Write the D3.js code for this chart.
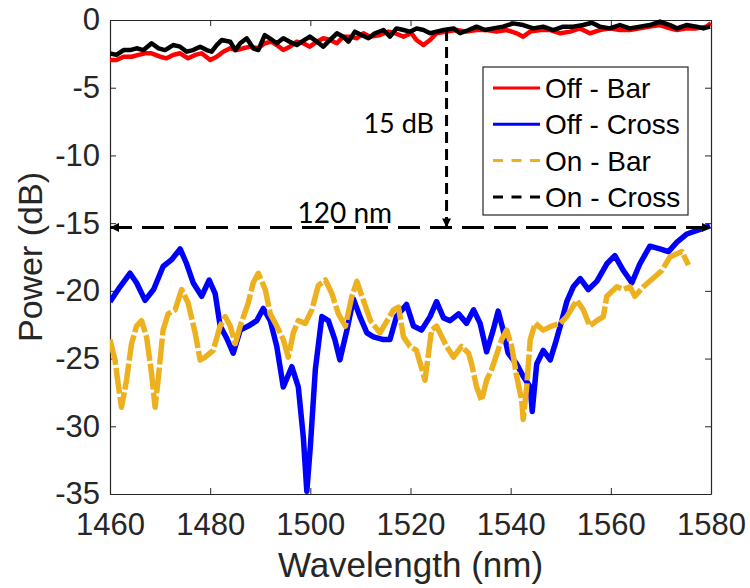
<!DOCTYPE html>
<html>
<head>
<meta charset="utf-8">
<script src="https://d3js.org/d3.v7.min.js"></script>
<style>
  body { margin: 0; background: #fff; }
  svg { display: block; }
</style>
</head>
<body>
<script>
// tick values
var xTicks = [1460, 1480, 1500, 1520, 1540, 1560, 1580],
    yTicks = [0, -5, -10, -15, -20, -25, -30, -35];

// measured spectra, [wavelength nm, power dB]
var offBar = [
  [1460.0,-2.95],[1461.3,-2.95],[1462.7,-2.71],[1464.3,-2.71],[1465.7,-2.58],[1467.0,-2.46],
  [1468.3,-2.46],[1470.0,-2.71],[1471.3,-2.83],[1472.6,-2.58],[1474.0,-2.46],[1475.6,-2.83],
  [1477.0,-2.58],[1478.3,-2.46],[1480.0,-2.95],[1481.3,-2.71],[1482.6,-2.34],[1484.0,-2.09],
  [1485.3,-2.22],[1486.6,-2.09],[1488.0,-1.97],[1489.6,-2.09],[1490.9,-1.72],[1492.3,-1.60],
  [1493.3,-1.85],[1494.6,-2.22],[1495.9,-1.97],[1497.3,-1.60],[1498.6,-1.72],[1499.9,-1.97],
  [1501.3,-1.60],[1502.6,-1.35],[1503.9,-1.48],[1505.3,-1.72],[1506.6,-1.23],[1507.9,-1.23],
  [1509.3,-1.35],[1510.6,-0.98],[1511.9,-1.23],[1513.9,-1.11],[1515.6,-0.86],[1516.9,-0.98],
  [1518.6,-1.23],[1520.2,-0.98],[1521.2,-1.48],[1522.6,-1.85],[1523.9,-1.48],[1525.2,-0.98],
  [1527.2,-0.86],[1529.2,-0.74],[1531.2,-0.86],[1533.2,-0.74],[1535.2,-0.74],[1537.2,-0.86],
  [1539.2,-0.74],[1541.2,-0.98],[1542.5,-1.23],[1543.9,-0.86],[1545.9,-0.74],[1547.9,-0.74],
  [1549.9,-0.98],[1551.9,-0.86],[1553.8,-0.62],[1555.8,-0.98],[1557.8,-0.74],[1559.8,-0.62],
  [1561.8,-0.74],[1563.8,-0.74],[1565.8,-0.62],[1567.8,-0.49],[1569.8,-0.37],[1571.8,-0.62],
  [1573.2,-0.74],[1575.1,-0.62],[1577.1,-0.62],[1579.1,-0.49],[1580.0,-0.25]
];

var offCross = [
  [1460.0,-20.8],[1462.0,-19.7],[1464.0,-18.7],[1465.3,-19.4],[1467.0,-20.7],[1468.7,-19.9],
  [1470.6,-18.2],[1472.3,-17.7],[1474.0,-16.9],[1475.3,-18.0],[1476.6,-19.4],[1478.3,-20.4],
  [1479.8,-19.2],[1481.0,-20.2],[1482.0,-22.6],[1483.3,-23.5],[1484.6,-24.6],[1486.0,-22.9],
  [1487.6,-22.6],[1489.3,-22.2],[1490.6,-21.3],[1492.0,-22.2],[1493.3,-24.1],[1494.6,-27.1],
  [1496.3,-25.6],[1497.6,-27.1],[1498.6,-30.8],[1499.3,-34.8],[1500.0,-31.5],[1501.0,-25.8],
  [1502.3,-21.9],[1503.6,-22.2],[1504.9,-23.6],[1505.9,-25.1],[1507.3,-22.9],[1508.6,-20.6],
  [1509.9,-21.9],[1511.3,-23.1],[1512.6,-23.4],[1514.6,-23.6],[1515.9,-23.6],[1517.2,-21.9],
  [1519.2,-21.0],[1520.6,-22.6],[1522.2,-22.9],[1523.9,-21.9],[1525.2,-20.8],[1526.6,-22.0],
  [1527.9,-22.2],[1529.6,-21.7],[1531.2,-22.4],[1532.6,-21.4],[1533.9,-22.4],[1535.2,-24.5],
  [1536.5,-22.9],[1537.5,-21.5],[1538.5,-22.9],[1539.5,-24.6],[1541.2,-25.4],[1542.5,-26.3],
  [1543.9,-27.1],[1544.3,-28.9],[1545.2,-25.4],[1546.5,-24.4],[1547.9,-25.1],[1548.9,-23.9],
  [1550.2,-22.2],[1551.2,-20.8],[1552.5,-19.7],[1553.9,-19.1],[1555.5,-19.9],[1557.2,-19.3],
  [1559.2,-18.0],[1560.8,-17.4],[1562.5,-18.5],[1564.2,-19.4],[1565.8,-18.0],[1567.8,-16.7],
  [1569.8,-16.9],[1571.5,-17.1],[1573.2,-16.4],[1575.2,-15.8],[1577.5,-15.5],[1579.8,-15.2]
];

var onBar = [
  [1460.0,-23.6],[1461.0,-25.1],[1461.6,-26.8],[1462.3,-28.6],[1463.3,-26.6],[1464.3,-23.9],
  [1465.3,-22.6],[1466.3,-22.2],[1467.3,-23.4],[1468.3,-26.1],[1469.0,-28.6],[1469.6,-26.6],
  [1470.6,-22.9],[1471.6,-21.7],[1473.0,-21.4],[1474.3,-19.9],[1475.6,-20.9],[1477.0,-23.1],
  [1478.0,-25.1],[1479.0,-24.9],[1480.6,-24.4],[1482.0,-22.6],[1483.0,-21.9],[1484.0,-22.6],
  [1485.0,-23.9],[1486.0,-22.6],[1487.6,-20.9],[1488.6,-19.4],[1489.6,-18.7],[1491.0,-19.9],
  [1492.0,-21.7],[1493.3,-22.6],[1494.6,-23.6],[1495.6,-24.9],[1496.6,-23.1],[1497.6,-22.2],
  [1499.0,-22.4],[1500.3,-21.4],[1501.6,-19.6],[1503.0,-19.2],[1504.3,-20.2],[1505.6,-21.7],
  [1507.0,-22.6],[1508.3,-20.4],[1509.3,-19.3],[1510.6,-20.7],[1512.0,-22.2],[1513.9,-23.1],
  [1516.6,-21.4],[1517.6,-21.2],[1518.6,-23.4],[1519.9,-24.1],[1521.2,-24.4],[1522.9,-26.6],
  [1524.2,-22.9],[1525.2,-22.6],[1527.2,-24.1],[1528.6,-24.9],[1530.2,-24.1],[1531.6,-24.6],
  [1532.2,-25.4],[1533.2,-27.1],[1534.2,-28.1],[1535.2,-26.6],[1536.2,-25.8],[1538.2,-23.6],
  [1539.2,-22.9],[1540.2,-24.1],[1541.2,-26.3],[1542.2,-28.1],[1542.5,-29.5],[1543.2,-27.1],
  [1543.9,-23.6],[1544.9,-22.4],[1546.5,-22.9],[1548.2,-22.6],[1549.9,-22.4],[1551.2,-21.9],
  [1553.2,-20.7],[1554.5,-21.4],[1555.8,-22.6],[1557.2,-22.2],[1558.5,-21.9],[1559.2,-20.4],
  [1561.2,-19.7],[1562.5,-19.9],[1563.8,-19.7],[1564.8,-20.4],[1566.5,-19.7],[1570.2,-18.5],
  [1571.8,-17.5],[1574.2,-17.1],[1575.5,-18.1]
];

var onCross = [
  [1460.0,-2.46],[1461.3,-2.58],[1462.7,-2.22],[1464.0,-2.22],[1465.3,-2.09],[1466.7,-2.22],
  [1468.3,-1.72],[1469.7,-2.09],[1471.0,-2.22],[1472.6,-1.85],[1474.0,-1.97],[1475.3,-2.34],
  [1476.6,-2.22],[1478.0,-1.97],[1479.3,-2.22],[1480.3,-2.34],[1481.3,-1.85],[1482.3,-1.48],
  [1484.0,-1.60],[1485.0,-2.22],[1486.0,-1.72],[1487.3,-1.35],[1488.6,-2.09],[1489.6,-2.22],
  [1490.9,-1.11],[1491.9,-1.35],[1493.3,-1.72],[1494.6,-1.35],[1495.9,-1.60],[1497.3,-1.85],
  [1498.3,-1.60],[1499.9,-1.23],[1501.3,-1.60],[1502.6,-1.97],[1503.9,-1.48],[1505.3,-0.98],
  [1506.6,-1.23],[1507.6,-1.60],[1508.9,-0.86],[1510.2,-1.11],[1511.6,-1.35],[1512.9,-0.98],
  [1514.6,-0.74],[1515.9,-1.23],[1517.2,-0.62],[1518.6,-0.74],[1519.9,-0.86],[1521.2,-0.62],
  [1522.6,-0.74],[1523.9,-0.98],[1525.2,-0.86],[1526.6,-0.74],[1528.6,-0.62],[1529.9,-0.98],
  [1531.6,-0.74],[1533.2,-0.49],[1534.9,-0.74],[1536.5,-0.62],[1538.5,-0.49],[1540.5,-0.25],
  [1542.5,-0.37],[1544.5,-0.62],[1546.5,-0.49],[1548.5,-0.74],[1550.5,-0.49],[1552.5,-0.49],
  [1554.5,-0.37],[1556.2,-0.20],[1557.8,-0.49],[1559.8,-0.62],[1561.8,-0.37],[1563.8,-0.62],
  [1565.8,-0.49],[1567.8,-0.37],[1569.8,-0.12],[1571.8,-0.37],[1573.2,-0.62],[1575.1,-0.37],
  [1577.1,-0.49],[1578.5,-0.62],[1579.8,-0.49]
];

var legendNames = ["Off - Bar", "Off - Cross", "On - Bar", "On - Cross"];

// annotation values
var spanNm = [1460, 1580],
    spanLevel = -15.32,
    extinctionAt = 1527.2,
    extinctionTop = -0.74;

var width = 750,
    height = 588,
    plotLeft = 110, plotRight = 711, plotTop = 20, plotBottom = 494,
    axisColor = "#262626";

var x = d3.scaleLinear().domain([1460, 1580]).range([plotLeft, plotRight]),
    y = d3.scaleLinear().domain([-35, 0]).range([plotBottom, plotTop]);

var figure = d3.select("body")
  .append("svg")
    .attr("width", width)
    .attr("height", height);

var defs = figure.append("defs");
defs.append("clipPath")
    .attr("id", "plot-clip")
  .append("rect")
    .attr("x", plotLeft)
    .attr("y", plotTop - 4)
    .attr("width", plotRight - plotLeft + 4)
    .attr("height", plotBottom - plotTop + 4);

defs.append("marker")
    .attr("id", "arrow")
    .attr("viewBox", "0 0 10 10")
    .attr("refX", 10)
    .attr("refY", 5)
    .attr("markerUnits", "userSpaceOnUse")
    .attr("markerWidth", 10)
    .attr("markerHeight", 9)
    .attr("orient", "auto-start-reverse")
  .append("path")
    .attr("d", "M0,0 L10,5 L0,10 Z")
    .attr("fill", "#000");

// axes, ticks pointing inward on all four sides
function styleAxis(g) {
  g.select(".domain").attr("stroke", axisColor).attr("stroke-width", 1.2);
  g.selectAll(".tick line").attr("stroke", axisColor).attr("stroke-width", 1);
  g.selectAll("text")
    .attr("fill", axisColor)
    .style("font-family", "'Liberation Sans', Arial, sans-serif")
    .style("font-size", "31px");
}

figure.append("g")
    .attr("transform", "translate(0," + plotBottom + ")")
    .call(d3.axisBottom(x).tickValues(xTicks).tickSizeInner(-6).tickSizeOuter(0)
      .tickPadding(19).tickFormat(d3.format("d")))
    .call(styleAxis);

figure.append("g")
    .attr("transform", "translate(" + plotLeft + ",0)")
    .call(d3.axisLeft(y).tickValues(yTicks).tickSizeInner(-6).tickSizeOuter(0)
      .tickPadding(10).tickFormat(function(d) { return String(d); }))
    .call(styleAxis);

figure.append("g")
    .attr("transform", "translate(0," + plotTop + ")")
    .call(d3.axisTop(x).tickValues(xTicks).tickSizeInner(-6).tickSizeOuter(0).tickFormat(""))
    .call(styleAxis);

figure.append("g")
    .attr("transform", "translate(" + plotRight + ",0)")
    .call(d3.axisRight(y).tickValues(yTicks).tickSizeInner(-6).tickSizeOuter(0).tickFormat(""))
    .call(styleAxis);

// axis titles
figure.append("text")
    .attr("x", (plotLeft + plotRight) / 2)
    .attr("y", 577)
    .attr("text-anchor", "middle")
    .attr("fill", axisColor)
    .style("font-family", "'Liberation Sans', Arial, sans-serif")
    .style("font-size", "35px")
    .text("Wavelength (nm)");

figure.append("text")
    .attr("transform", "translate(42," + (plotTop + plotBottom) / 2 + ") rotate(-90)")
    .attr("text-anchor", "middle")
    .attr("fill", axisColor)
    .style("font-family", "'Liberation Sans', Arial, sans-serif")
    .style("font-size", "34px")
    .text("Power (dB)");

// the spectra; dense noisy traces make the dashed ones look almost solid
var line = d3.line()
    .x(function(d) { return x(d[0]); })
    .y(function(d) { return y(d[1]); });

var series = [
  {data: offBar,   color: "#ff0000", width: 4.5, dash: null,   key: null},
  {data: offCross, color: "#0000ff", width: 5.5, dash: null,   key: null},
  {data: onBar,    color: "#edb120", width: 5.5, dash: "26,3", key: "10,8.5"},
  {data: onCross,  color: "#000000", width: 4.5, dash: null,   key: "10,8.5"}
];

figure.append("g")
    .attr("clip-path", "url(#plot-clip)")
    .selectAll("path")
    .data(series)
    .enter()
    .append("path")
    .attr("d", function(d) { return line(d.data); })
    .attr("fill", "none")
    .attr("stroke", function(d) { return d.color; })
    .attr("stroke-width", function(d) { return d.width; })
    .attr("stroke-linejoin", "round")
    .attr("stroke-dasharray", function(d) { return d.dash; });

// 120 nm span arrow
figure.append("line")
    .attr("x1", x(spanNm[0]))
    .attr("x2", x(spanNm[1]))
    .attr("y1", y(spanLevel))
    .attr("y2", y(spanLevel))
    .attr("stroke", "#000")
    .attr("stroke-width", 3)
    .attr("stroke-dasharray", "22,10")
    .attr("marker-start", "url(#arrow)")
    .attr("marker-end", "url(#arrow)");

// 15 dB extinction arrow
figure.append("line")
    .attr("x1", x(extinctionAt))
    .attr("x2", x(extinctionAt))
    .attr("y1", y(extinctionTop))
    .attr("y2", y(spanLevel))
    .attr("stroke", "#000")
    .attr("stroke-width", 3)
    .attr("stroke-dasharray", "11,6")
    .attr("marker-end", "url(#arrow)");

figure.append("text")
    .attr("x", x(1506.9))
    .attr("y", y(spanLevel) - 4)
    .attr("text-anchor", "middle")
    .style("font-family", "Lato, sans-serif")
    .style("font-size", "28px")
    .text("120 nm");

figure.append("text")
    .attr("x", x(1524.7))
    .attr("y", 133)
    .attr("text-anchor", "end")
    .style("font-family", "Lato, sans-serif")
    .style("font-size", "27px")
    .text("15 dB");

// legend
var legend = figure.append("g");
legend.append("rect")
    .attr("x", 483)
    .attr("y", 67)
    .attr("width", 205)
    .attr("height", 148)
    .attr("fill", "#fff")
    .attr("stroke", axisColor)
    .attr("stroke-width", 1.2);

var items = legend.selectAll(".item")
    .data(series)
    .enter()
    .append("g")
    .attr("class", "item")
    .attr("transform", function(d, i) { return "translate(0," + (88 + i * 36.3) + ")"; });

items.append("line")
    .attr("x1", 493)
    .attr("x2", 540)
    .attr("stroke", function(d) { return d.color; })
    .attr("stroke-width", 3)
    .attr("stroke-dasharray", function(d) { return d.key; });

items.append("text")
    .attr("x", 545)
    .attr("dy", "0.36em")
    .style("font-family", "'Liberation Sans', Arial, sans-serif")
    .style("font-size", "28px")
    .text(function(d, i) { return legendNames[i]; });
</script>
</body>
</html>
